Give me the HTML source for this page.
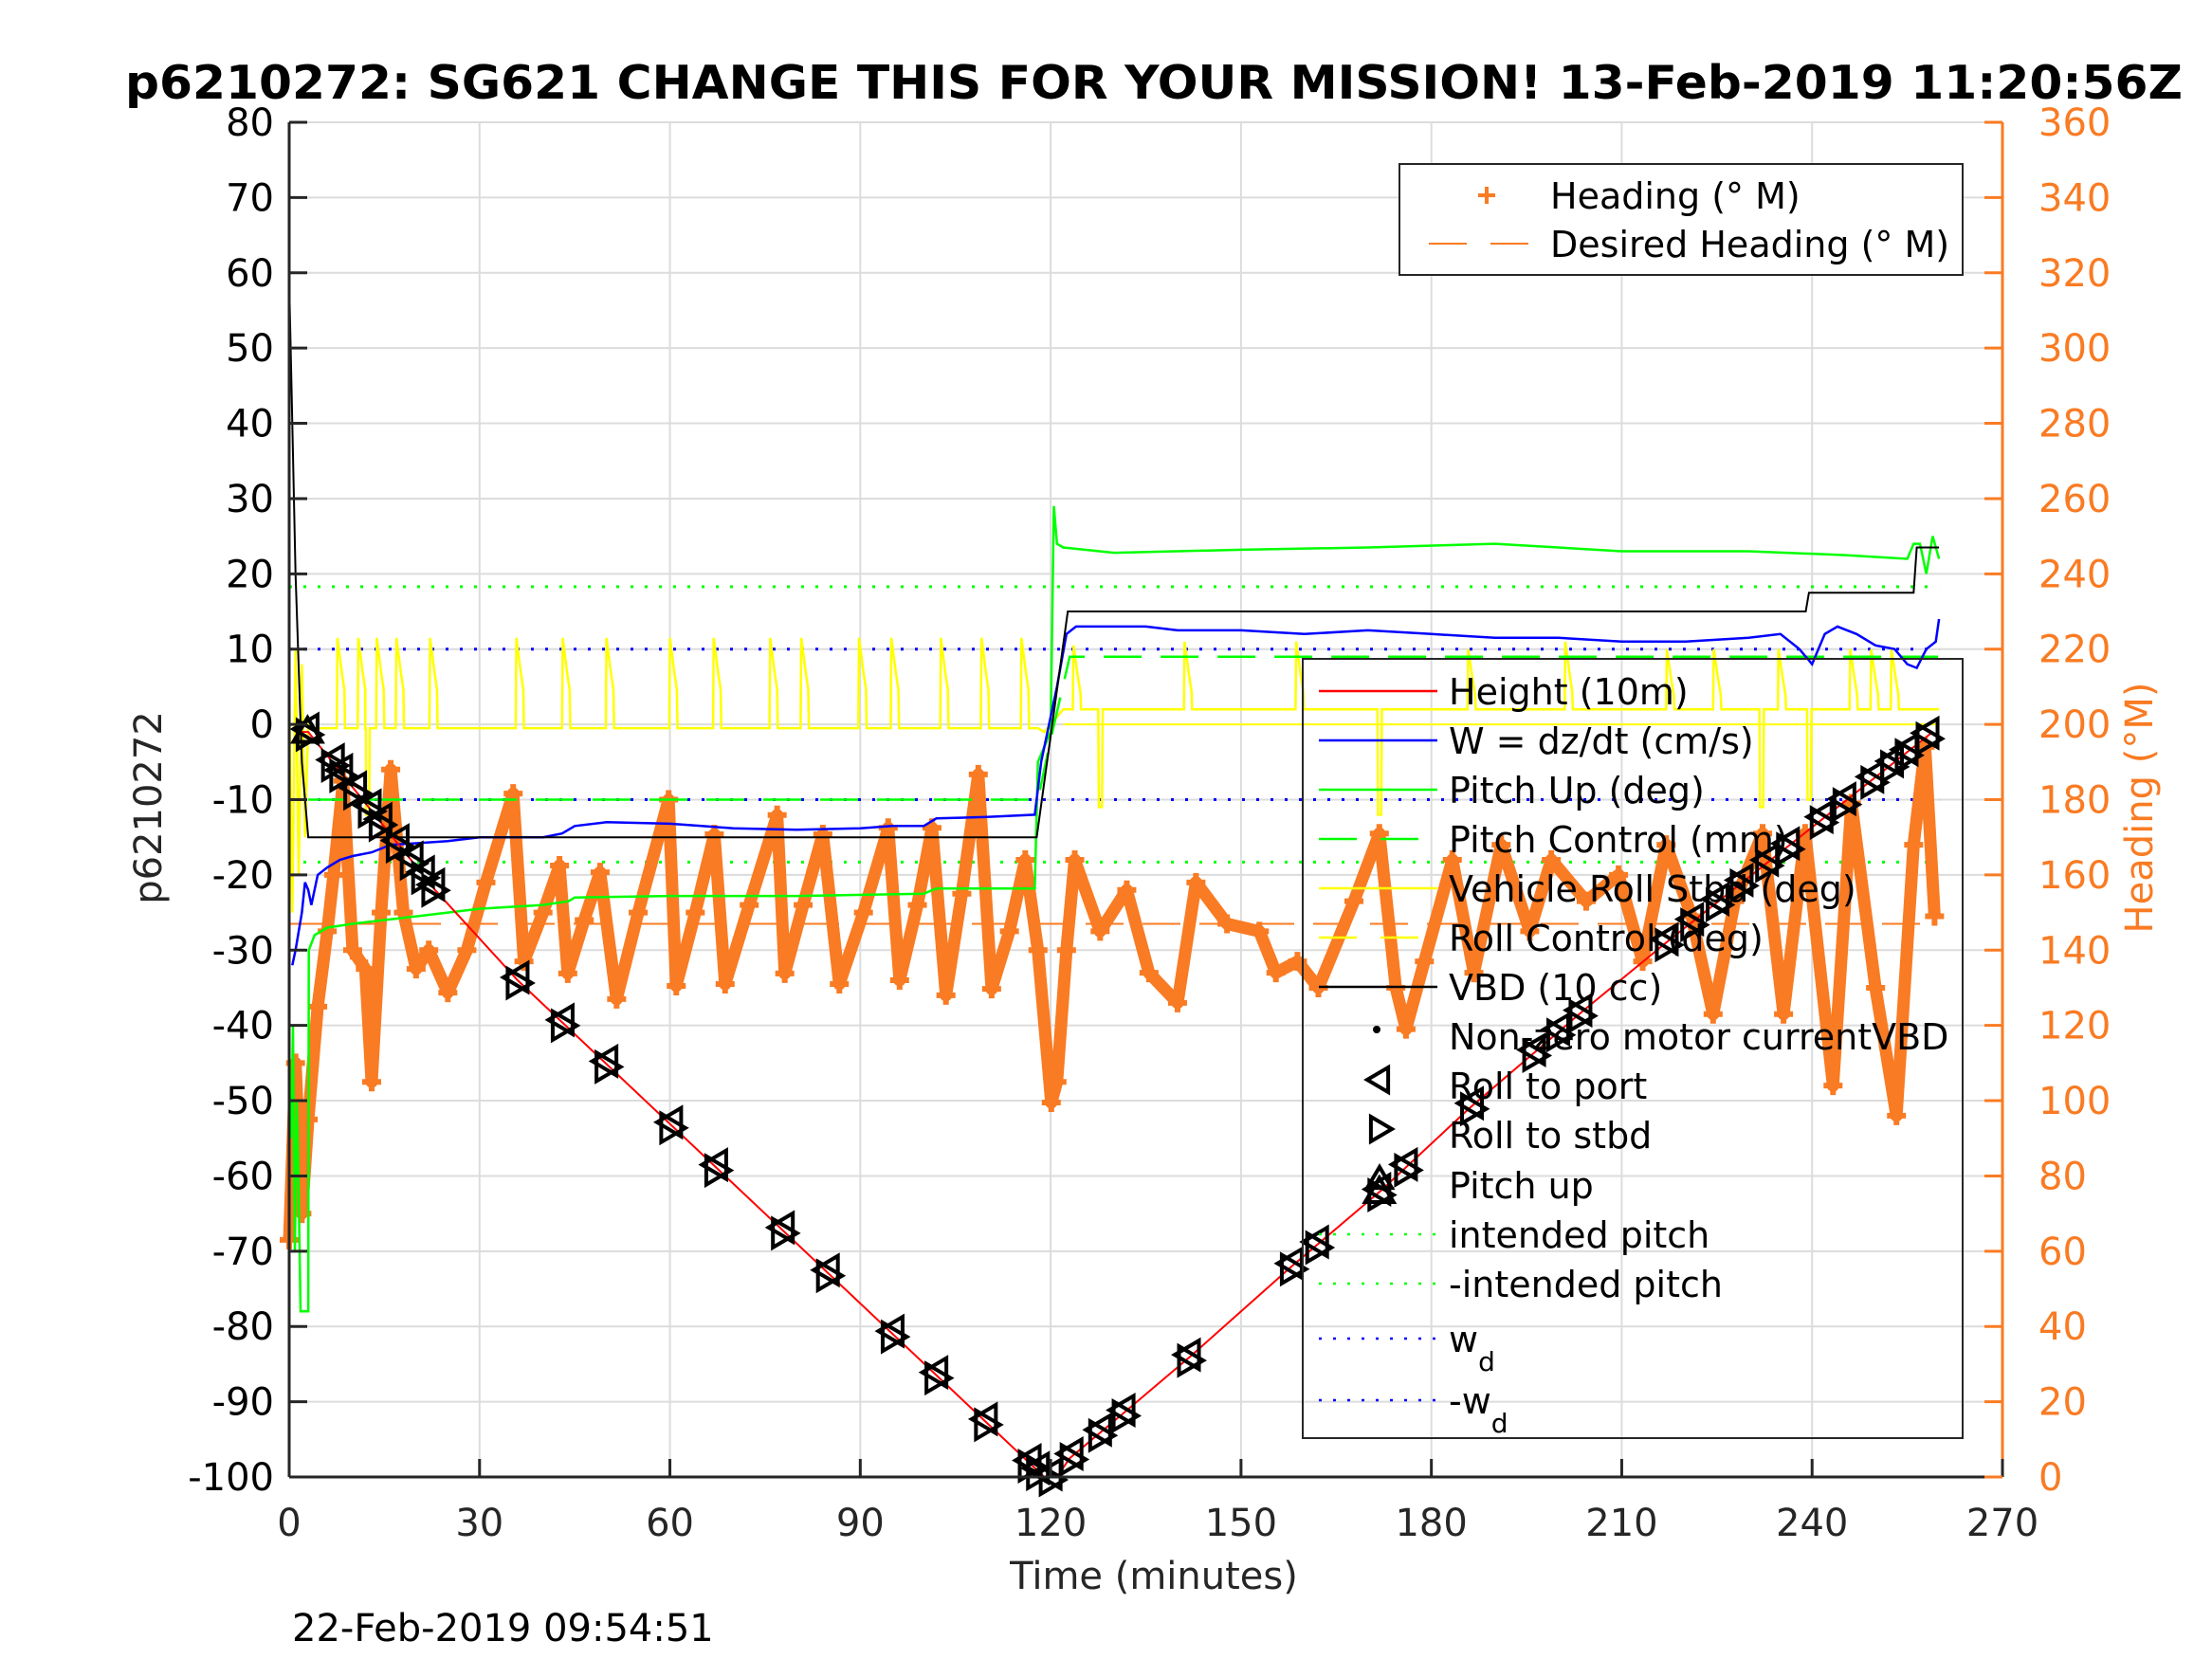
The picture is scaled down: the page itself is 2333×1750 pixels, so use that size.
<!DOCTYPE html>
<html><head><meta charset="utf-8"><style>
html,body{margin:0;padding:0;background:#fff;}
svg{display:block;font-family:"DejaVu Sans","Liberation Sans",sans-serif;}
</style></head><body>
<svg id="chart" width="2333" height="1750" viewBox="0 0 2333 1750" xmlns="http://www.w3.org/2000/svg">
<rect width="2333" height="1750" fill="#fff"/>
<text x="1217" y="104" text-anchor="middle" font-weight="bold" font-size="49" textLength="2170" lengthAdjust="spacingAndGlyphs">p6210272: SG621 CHANGE THIS FOR YOUR MISSION! 13-Feb-2019 11:20:56Z</text>
<g id="grid"></g>
<g id="series"></g>
<g id="axes"></g>
<text x="1217" y="1676" text-anchor="middle" font-size="40" fill="#262626">Time (minutes)</text>
<text transform="translate(170,852) rotate(-90)" text-anchor="middle" font-size="40" fill="#262626">p6210272</text>
<text transform="translate(2270,852) rotate(-90)" text-anchor="middle" font-size="40" fill="#f97b23">Heading (°M)</text>
<text x="308" y="1731" font-size="40" fill="#000">22-Feb-2019 09:54:51</text>
<g id="legend1"></g>
<g id="legend2"></g>
</svg>
<script>
// ---------- data ----------
const xTicks = [0,30,60,90,120,150,180,210,240,270];
const yTicks = [80,70,60,50,40,30,20,10,0,-10,-20,-30,-40,-50,-60,-70,-80,-90,-100];
const y2Ticks = [360,340,320,300,280,260,240,220,200,180,160,140,120,100,80,60,40,20,0];

const heightT = [2,3,23,36,119,121,123,131.5,142,158,172,186,204,217,259];
const heightV = [-1,-1,-22,-34,-100,-100,-97.5,-91.5,-84,-72,-62,-51,-38,-29,-1];

const vbdT = [0,0.5,1,2,3,117.8,122.7,239,239.5,256,256.5,260];
const vbdV = [59,40,20,-5,-15,-15,15,15,17.5,17.5,23.5,23.5];

const wT = [0.5,1,2,2.5,3,3.5,4.5,6,8,10,13,16,20,25,30,40,43,45,50,60,65,70,80,90,95,100,102,110,117.5,118.5,121,122.5,124,135,140,150,160,170,180,190,200,210,220,230,235,238,240,242,244,247,250,253,255,256.5,258,259.5,260];
const wV = [-32,-30,-25,-21,-22,-24,-20,-19,-18,-17.5,-17,-16,-15.8,-15.5,-15,-15,-14.5,-13.5,-13,-13.2,-13.5,-13.8,-14,-13.8,-13.5,-13.5,-12.5,-12.3,-12,-5,5,12,13,13,12.5,12.5,12,12.5,12,11.5,11.5,11,11,11.5,12,10,8,12,13,12,10.5,10,8,7.5,10,11,14];

const pitchT = [0.3,0.6,0.9,1.2,1.5,1.8,3,3.1,4,6,10,15,20,25,30,40,44,45,60,80,100,102,117.5,118,119,120,120.5,121,122,130,150,170,190,200,210,230,245,255,256,257,258,259,260];
const pitchV = [-55,-40,-70,-50,-62,-78,-78,-30,-28,-27,-26.5,-26,-25.5,-25,-24.5,-24,-23.5,-23,-22.8,-22.8,-22.5,-21.8,-21.8,-5,-3,-1,29,24,23.5,22.8,23.2,23.5,24,23.5,23,23,22.5,22,24,24,20,25,22];

const pitchCtlT = [3,118,120,123,260];
const pitchCtlV = [-10,-10,-2,9,9];

const rollBaseT = [0,0.5,1,1.5,2,2.5,3,4,118,119,120,121,122,260];
const rollBaseV = [5,-25,10,-20,8,-15,0,-0.5,-0.5,-1,0,1,2,2];
const rollSpikeT = [7.8,11.1,14,17.1,22.4,36,43.3,50.2,60.2,67.1,76,80.9,90,95.1,102.9,109.3,115.6,123.8,141.3,158.9,186,201.3,217.3,224.7,234.9,246.2,249.5,252.7];
const rollSpikeV = [11.5,11.5,11.5,11.5,11.5,11.5,11.5,11.5,11.5,11.5,11.5,11.5,11.5,11.5,11.5,11.5,11.5,10.5,11,11,10,11,10,10,10,10,10,10];
const rollDipT = [12.3,127.8,171.8,232,239.5];
const rollDipV = [-12,-11,-12,-11,-10];
const rollCtlT = [122,260];
const rollCtlV = [0,0];

const intendedPitch = 18.3;
const wd = 10;
const desiredHeading = 147;

const headT = [0,1,2,3,4.5,6,7,8.5,10,12,13,14.5,16,18,20,22,25,28,31,35.3,37,40,42.6,43.9,46.5,49,51.6,55,59.8,61,64,67,68.7,72.5,76.9,78.1,81,84.1,86.7,90.5,94.4,96.2,99,101.3,103.5,106,108.6,110.7,113.5,116,118,120.1,121,122.5,123.8,127.8,132,135.5,140,142.9,147.8,152.9,155.5,158.9,162.2,167.8,171.8,174.4,176,178.9,183.3,186.7,191,195.5,198.9,204.4,209.5,213.3,217,221,224.4,227.8,232.2,235.5,238.9,243.3,246.2,250,253.3,256,257.8,259.3];
const headV = [63,110,70,95,125,145,160,185,140,135,105,150,188,150,135,140,128.7,140,158,181.6,137,150,162.5,133.8,148,160.7,127,150,180,130.5,150,170.8,131,152,175.9,133.8,152,170.8,131,150,172.5,132,152,172.5,128,155,186.7,129.7,145,164,140,99.5,105,140,164,145,156,134,126,158,147,145,134,137,130,153,171,130,119,137,164,134,168,145,164,153,160,137,168,149,123,153,171,123,171,104,179,130,96,168,194,149];

const markT = [2.9,6.9,8.2,10.4,12.7,14.4,17.1,19.3,21.1,22.7,36,43.1,50,60.2,67.3,77.8,84.9,95.1,102,109.8,116.7,118,120,123.3,127.8,131.5,141.8,158,162,171.8,176,186.4,196.2,200,203.5,217.1,221.1,225.1,228.9,232.9,236.2,241.5,245.1,249.5,252.6,254.9,258.2];
const pitchUpMarkT = [2.9,171.8];

// ---------- axes ----------
const L=305,R=2112,T=129,B=1558;
const X=t=>L+(t-0)/(270-0)*(R-L);
const Y=v=>T+(80-v)/(80-(-100))*(B-T);
const H=h=>B-h/360*(B-T);
const NS='http://www.w3.org/2000/svg';
function mk(tag,attrs,parent){const e=document.createElementNS(NS,tag);for(const k in attrs)e.setAttribute(k,attrs[k]);parent.appendChild(e);return e;}
function interp(ts,vs,t){if(t<=ts[0])return vs[0];for(let i=1;i<ts.length;i++){if(t<=ts[i]){const f=(t-ts[i-1])/(ts[i]-ts[i-1]);return vs[i-1]+f*(vs[i]-vs[i-1]);}}return vs[vs.length-1];}
function pts(ts,vs,fy){return ts.map((t,i)=>X(t).toFixed(1)+','+fy(vs[i]).toFixed(1)).join(' ');}

const grid=document.getElementById('grid'),ser=document.getElementById('series'),ax=document.getElementById('axes');
xTicks.forEach(t=>{const g=mk('line',{x1:X(t),x2:X(t),y1:T,y2:B,stroke:'#dcdcdc','stroke-width':2},grid);});
yTicks.forEach(v=>{const g=mk('line',{x1:L,x2:R,y1:Y(v),y2:Y(v),stroke:'#dcdcdc','stroke-width':2},grid);});

function line(ts,vs,fy,attrs,name){const p=mk('polyline',Object.assign({points:pts(ts,vs,fy),fill:'none'},attrs),ser);return p;}

// reference lines
[[intendedPitch,'#00ff00','intended-pitch-line'],[-intendedPitch,'#00ff00','neg-intended-pitch-line'],[wd,'#0000ff','wd-line'],[-wd,'#0000ff','neg-wd-line']].forEach(a=>{
  const e=mk('line',{x1:X(0),x2:X(260),y1:Y(a[0]),y2:Y(a[0]),stroke:a[1],'stroke-width':3,'stroke-dasharray':'3 12'},ser);
  
  
});
// heading
line(headT,headV,H,{stroke:'#f97b23','stroke-width':13,'stroke-linejoin':'round'},'heading-trace');
headT.forEach((t,i)=>{const x=X(t),y=H(headV[i]);const p=mk('path',{d:`M${x-10},${y}H${x+10}M${x},${y-10}V${y+10}`,stroke:'#f97b23','stroke-width':6},ser);
  
  });
const dh=mk('line',{x1:X(0),x2:X(260),y1:H(desiredHeading),y2:H(desiredHeading),stroke:'#f97b23','stroke-width':2,'stroke-dasharray':'40 20'},ser);



// roll: baseline + spikes
(function(){
  let items=[];rollBaseT.forEach((t,i)=>items.push([t,rollBaseV[i]]));
  rollSpikeT.forEach((t,i)=>{const b=interp(rollBaseT,rollBaseV,t);items.push([t-0.3,b],[t-0.2,rollSpikeV[i]],[t+0.5,rollSpikeV[i]*0.6],[t+0.9,rollSpikeV[i]*0.4],[t+1.0,b]);});
  rollDipT.forEach((t,i)=>{const b=interp(rollBaseT,rollBaseV,t);items.push([t-0.3,b],[t-0.2,rollDipV[i]],[t+0.3,rollDipV[i]],[t+0.4,b]);});
  items.sort((a,b)=>a[0]-b[0]);
  line(items.map(a=>a[0]),items.map(a=>a[1]),Y,{stroke:'#ffff00','stroke-width':2.5},'vehicle-roll-line');
})();
line(rollCtlT,rollCtlV,Y,{stroke:'#ffff00','stroke-width':2},'roll-control-line');
line(pitchCtlT,pitchCtlV,Y,{stroke:'#00ff00','stroke-width':2.5,'stroke-dasharray':'40 20'},'pitch-control-line');
line(pitchT,pitchV,Y,{stroke:'#00ff00','stroke-width':2.5},'pitch-up-line');
line(wT,wV,Y,{stroke:'#0000ff','stroke-width':2.5},'w-line');
line(vbdT,vbdV,Y,{stroke:'#000','stroke-width':2},'vbd-line');
line(heightT,heightV,Y,{stroke:'#ff0000','stroke-width':2},'height-line');

function tri(x,y,dir,s,parent){let d;
  if(dir==='l')d=`M${x-s},${y}L${x+s*0.7},${y-s}L${x+s*0.7},${y+s}Z`;
  else if(dir==='r')d=`M${x+s},${y}L${x-s*0.7},${y-s}L${x-s*0.7},${y+s}Z`;
  else d=`M${x},${y-s}L${x-s},${y+s*0.7}L${x+s},${y+s*0.7}Z`;
  return mk('path',{d:d,fill:'none',stroke:'#000','stroke-width':4},parent);}
markT.forEach(t=>{const v=interp(heightT,heightV,t);
  const a=tri(X(t),Y(v)-3,'l',15,ser);
  
  
  const b=tri(X(t),Y(v)+3,'r',15,ser);
  
  });
pitchUpMarkT.forEach(t=>{const v=interp(heightT,heightV,t);const a=tri(X(t),Y(v),'u',15,ser);
  
  });

// axes lines & ticks
mk('line',{x1:L,x2:L,y1:T,y2:B,stroke:'#262626','stroke-width':3},ax);
mk('line',{x1:L,x2:R,y1:B,y2:B,stroke:'#262626','stroke-width':3},ax);
mk('line',{x1:R,x2:R,y1:T,y2:B,stroke:'#f97b23','stroke-width':3},ax);
xTicks.forEach(t=>{mk('line',{x1:X(t),x2:X(t),y1:B,y2:B-19,stroke:'#262626','stroke-width':3},ax);
  const tx=mk('text',{x:X(t),y:B+62,'text-anchor':'middle','font-size':40,fill:'#262626'},ax);tx.textContent=t;
  
  });
yTicks.forEach(v=>{mk('line',{x1:L,x2:L+19,y1:Y(v),y2:Y(v),stroke:'#262626','stroke-width':3},ax);
  const tx=mk('text',{x:L-16,y:Y(v)+14,'text-anchor':'end','font-size':40,fill:'#000'},ax);tx.textContent=v;
  
  });
y2Ticks.forEach(h=>{mk('line',{x1:R,x2:R-19,y1:H(h),y2:H(h),stroke:'#f97b23','stroke-width':3},ax);
  const tx=mk('text',{x:R+38,y:H(h)+14,'text-anchor':'start','font-size':40,fill:'#f97b23'},ax);tx.textContent=h;
  
  });

// legends
const lg1=document.getElementById('legend1');
mk('rect',{x:1476,y:173,width:594,height:117,fill:'#fff',stroke:'#262626','stroke-width':2},lg1);
mk('path',{d:'M1559,206H1577M1568,197V215',stroke:'#f97b23','stroke-width':4},lg1);
mk('line',{x1:1507,x2:1616,y1:257,y2:257,stroke:'#f97b23','stroke-width':2,'stroke-dasharray':'40 25'},lg1);
[['Heading (° M)',220],['Desired Heading (° M)',271]].forEach(a=>{const t=mk('text',{x:1635,y:a[1],'font-size':38},lg1);t.textContent=a[0];
  
  });

const lg2=document.getElementById('legend2');
mk('rect',{x:1374,y:695,width:696,height:822,fill:'none',stroke:'#262626','stroke-width':2},lg2);
const entries=[
 ['Height (10m)',729,'line','#ff0000',''],
 ['W = dz/dt (cm/s)',781,'line','#0000ff',''],
 ['Pitch Up (deg)',833,'line','#00ff00',''],
 ['Pitch Control (mm)',885,'line','#00ff00','40 25'],
 ['Vehicle Roll Stbd (deg)',937,'line','#ffff00',''],
 ['Roll Control (deg)',989,'line','#ffff00','40 25'],
 ['VBD (10 cc)',1041,'line','#000',''],
 ['Non-zero motor currentVBD',1093,'dot','#000',''],
 ['Roll to port',1145,'l','#000',''],
 ['Roll to stbd',1197,'r','#000',''],
 ['Pitch up',1250,'u','#000',''],
 ['intended pitch',1302,'line','#00ff00','3 12'],
 ['-intended pitch',1354,'line','#00ff00','3 12'],
 ['w',1412,'line','#0000ff','3 12'],
 ['-w',1477,'line','#0000ff','3 12']];
entries.forEach(e=>{
  if(e[2]==='line')mk('line',{x1:1391,x2:1516,y1:e[1],y2:e[1],stroke:e[3],'stroke-width':2.5,'stroke-dasharray':e[4]||'none'},lg2);
  else if(e[2]==='dot')mk('circle',{cx:1452,cy:e[1]-7,r:4,fill:'#000'},lg2);
  else tri(1455,e[1]-6,e[2],13,lg2);
  const t=mk('text',{x:1528,y:e[1]+14,'font-size':38},lg2);t.textContent=e[0];
  
  
  if(e[0]==='w'||e[0]==='-w'){const s=mk('tspan',{'font-size':28,dy:20},t);s.textContent='d';}
});
</script>
</body></html>
